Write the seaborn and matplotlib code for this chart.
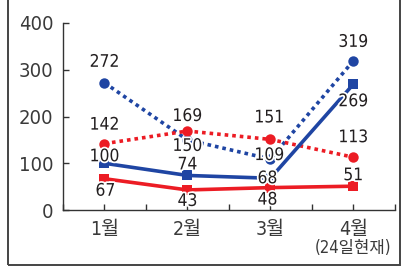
import numpy as np
import pandas as pd
import matplotlib
matplotlib.use("Agg")
import matplotlib.pyplot as plt
import matplotlib.patheffects as pe
from matplotlib.patches import Rectangle
from matplotlib.ticker import MultipleLocator
import seaborn as sns

# data
months = ["1월", "2월", "3월", "4월"]
month_note = "(24일현재)"
blue_dot = [272, 150, 109, 319]
red_dot = [142, 169, 151, 113]
blue_line = [100, 74, 68, 269]
red_line = [67, 43, 48, 51]

BLUE = "#1f45a3"
RED = "#ec1c24"
TXT = "#231f20"

sns.set_style("ticks")
plt.rcParams["font.family"] = ["DejaVu Sans", "Noto Sans CJK KR"]
plt.rcParams["font.stretch"] = "condensed"

fig = plt.figure(figsize=(4.2, 2.7), dpi=100)
ax = fig.add_axes([0.15, 0.222, 0.79, 0.693])

pos = np.arange(len(months))

# (values, color, marker, linestyle, label offsets in px (dx, dy down))
series = [
    (blue_dot, BLUE, "o", (0, (1, 1.1)), [(0, -21), (0, 6), (-1, -4), (0, -19)]),
    (red_dot, RED, "o", (0, (1, 1.1)), [(0, -19), (0, -15), (-1, -22), (0, -20)]),
    (red_line, RED, "s", "-", [(1, 12), (0, 11), (-3, 12), (0, -11)]),
    (blue_line, BLUE, "s", "-", [(0, -7), (0, -11), (-3, 0), (0, 17)]),
]

for vals, col, mk, ls, offs in series:
    df = pd.DataFrame({"x": pos, "y": vals})
    sns.lineplot(data=df, x="x", y="y", ax=ax, color=col, marker=mk,
                 linestyle=ls, linewidth=2.6, markersize=7.5 if mk == "o" else 7,
                 markeredgewidth=0, markeredgecolor=col, zorder=3)

for vals, col, mk, ls, offs in series:
    for xi, v, (dx, dy) in zip(pos, vals, offs):
        ax.annotate(str(v), (xi, v), xytext=(dx * 0.72, -dy * 0.72),
                    textcoords="offset points", ha="center", va="center",
                    fontsize=12.5, color=TXT, zorder=5, annotation_clip=False,
                    path_effects=[pe.withStroke(linewidth=2.5, foreground="white")])

ax.set_xlim(-0.5, 3.5)
ax.set_ylim(0, 400)
ax.set_yticks([0, 100, 200, 300, 400])
ax.set_xticks(pos)
ax.set_xticklabels(months)
ax.xaxis.set_minor_locator(MultipleLocator(0.5))
ax.tick_params(axis="both", which="both", direction="in", length=4,
               width=1, color="#333333")
ax.tick_params(axis="y", labelsize=14.5, labelcolor="#3a3a3a", pad=7)
ax.tick_params(axis="x", labelsize=14, labelcolor="#3a3a3a", pad=7)
ax.set_xlabel("")
ax.set_ylabel("")
sns.despine(ax=ax)
for s in ["left", "bottom"]:
    ax.spines[s].set_color("#333333")
    ax.spines[s].set_linewidth(1)

ax.annotate(month_note, (3, 0), xytext=(0, -27), textcoords="offset points",
            ha="center", va="center", fontsize=12, color="#3a3a3a",
            annotation_clip=False)

# outer frame of the graphic
fig.patches.append(Rectangle((8 / 420, 5 / 270), 392 / 420, 1.1, fill=False,
                             edgecolor="#444444", linewidth=1.4,
                             transform=fig.transFigure, figure=fig))

fig.savefig("out.png", dpi=100)
